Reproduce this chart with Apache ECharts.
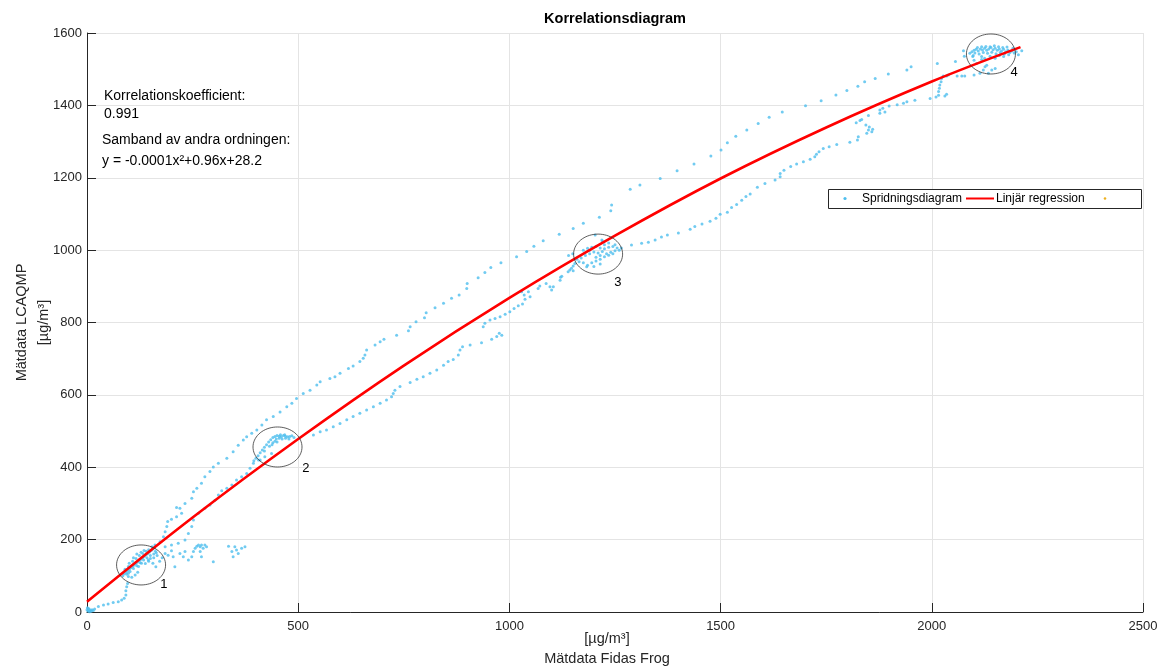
<!DOCTYPE html>
<html><head><meta charset="utf-8">
<script src="https://cdn.jsdelivr.net/npm/echarts@6/dist/echarts.min.js"></script>
<style>html,body{margin:0;padding:0;background:#fff}#c{width:1160px;height:666px}</style>
</head><body><div id="c"></div>
<script>
// ---------- data ----------
const chartTitle = 'Korrelationsdiagram';
const xAxisName = '[µg/m³]\nMätdata Fidas Frog';
const yAxisName = 'Mätdata LCAQMP\n[µg/m³]';
const xTicks = [0, 500, 1000, 1500, 2000, 2500];
const yTicks = [0, 200, 400, 600, 800, 1000, 1200, 1400, 1600];
const seriesNames = ['Spridningsdiagram', 'Linjär regression', ' '];
const seriesColors = ['#4DBEEE', '#FF0000', '#EDB120'];
const annotationLines = ['Korrelationskoefficient:', '0.991', 'Samband av andra ordningen:', 'y = -0.0001x²+0.96x+28.2'];

const originCluster = [[2,3],[5,8],[8,5],[10,2],[3,10],[12,6],[15,4],[6,1],[1,12],[18,8],[0,6],[4,4]];
const trailToCluster1 = [[27,15],[39,19],[50,22],[62,26],[74,28],[82,33],[88,38],[92,47],[92,59],[94,70],[96,79],[98,98],[98,107]];
const cluster1 = [[85,100],[88,106],[92,110],[96,114],[100,118],[104,122],[108,126],[112,130],[116,134],[120,138],[124,142],[128,146],[132,150],[136,154],[140,158],[144,162],[148,166],[152,170],[156,174],[160,178],[94,104],[102,112],[110,120],[118,128],[126,136],[134,144],[142,150],[150,156],[158,160],[164,164],[140,168],[132,162],[124,156],[116,148],[108,140],[98,126],[90,118],[146,172],[154,180],[162,168],[166,156],[146,140],[138,134],[122,126],[156,135],[163,125],[145,144],[129,135],[114,102],[120,110],[106,96],[150,148],[158,150],[135,170],[128,165],[118,160],[110,150],[100,135]];
const spur = [[192,157],[204,153],[208,125],[220,162],[228,153],[232,167],[240,144],[248,153],[252,167],[256,176],[260,182],[264,185],[268,180],[271,185],[275,176],[279,185],[283,180],[268,167],[271,153],[299,139],[335,182],[343,167],[350,180],[354,171],[358,162],[346,153],[366,176],[374,180],[200,169],[185,162],[178,150],[172,140]];
const lowerBranchA = [[185,180],[200,185],[216,190],[232,199],[240,217],[248,236],[252,254],[264,273],[279,287],[291,296],[303,309],[311,323],[319,335],[331,342],[343,351],[354,365],[366,374],[378,383],[386,397],[394,411],[406,420],[421,429],[437,438]];
const upperBranchA = [[161,185],[173,194],[181,208],[185,222],[189,236],[191,250],[200,256],[212,263],[224,273],[220,287],[212,289],[232,300],[248,314],[252,332],[260,342],[271,356],[279,374],[291,388],[299,401],[311,411],[331,425],[346,443],[358,461],[370,475],[378,484],[390,494],[402,503],[414,517],[425,531],[441,540],[457,553],[473,567],[485,577],[496,590],[512,604],[528,613],[544,627],[552,636]];
const cluster2 = [[445,485],[450,488],[455,486],[460,484],[465,488],[470,486],[475,484],[480,485],[485,487],[455,480],[462,478],[470,480],[478,478],[448,478],[440,482],[435,476],[430,470],[440,468],[425,462],[432,458],[420,455],[438,462],[450,470],[415,448],[410,440],[420,445],[405,432],[400,425],[395,418],[410,420],[490,482],[468,490],[458,490],[445,472]];
const lowerBranchB = [[536,489],[552,498],[567,503],[583,512],[599,521],[615,531],[630,540],[646,549],[662,558],[678,567],[694,577],[709,586],[721,595],[725,604],[729,613],[741,623],[765,634],[781,643],[796,650],[812,660],[828,669],[844,682],[855,692],[867,698],[879,710],[883,724],[889,733],[907,738],[934,744],[958,754],[970,761],[976,770],[982,765],[938,788],[942,798],[954,807],[966,811],[978,816],[990,823],[1001,830],[1011,839],[1021,846],[1031,851],[1037,864],[1035,876],[1029,885],[1045,885],[1049,871],[1068,894],[1072,901],[1087,908],[1096,899],[1100,890],[1104,899],[1120,917],[1121,925],[1124,928],[1139,940],[1143,945],[1151,943],[1151,956],[1155,963],[1147,950]];
const upperBranchB = [[575,645],[587,650],[599,660],[619,673],[630,680],[646,692],[654,701],[658,710],[662,724],[682,738],[694,747],[703,754],[733,765],[761,777],[765,788],[779,802],[799,813],[803,827],[824,841],[844,853],[863,867],[881,876],[899,894],[900,908],[926,924],[942,938],[956,952],[980,965],[1017,982],[1041,996],[1058,1011],[1080,1026],[1118,1044],[1151,1060],[1175,1074],[1213,1091],[1240,1109],[1242,1125]];
const cluster3 = [[1175,1000],[1185,1005],[1195,1008],[1205,1010],[1215,1006],[1225,1004],[1235,1008],[1245,1010],[1255,1006],[1200,995],[1210,992],[1220,996],[1230,990],[1240,994],[1250,998],[1215,985],[1225,982],[1235,986],[1205,980],[1190,990],[1180,985],[1170,978],[1160,975],[1165,968],[1175,965],[1185,958],[1195,965],[1205,970],[1215,975],[1200,955],[1215,962],[1225,1015],[1235,1020],[1220,1025],[1203,1042],[1219,1028],[1260,1000],[1245,990],[1265,1006],[1190,1000],[1183,954],[1150,990],[1140,985],[1250,1015]];
const lowerBranchC = [[1289,1014],[1313,1019],[1329,1022],[1345,1028],[1360,1036],[1374,1042],[1400,1047],[1428,1058],[1439,1065],[1456,1072],[1475,1080],[1489,1088],[1499,1099],[1516,1105],[1526,1118],[1538,1126],[1550,1138],[1560,1148],[1570,1155],[1587,1174],[1605,1184],[1629,1194],[1641,1203],[1641,1212],[1650,1221],[1666,1231],[1680,1238],[1696,1244],[1712,1251],[1723,1258],[1727,1265],[1733,1272],[1743,1281],[1757,1286],[1775,1292],[1806,1298],[1824,1304],[1826,1313],[1846,1323],[1850,1332],[1858,1327],[1860,1334],[1852,1340],[1844,1346],[1821,1352],[1830,1358],[1834,1361],[1850,1372],[1877,1378],[1877,1387],[1884,1392],[1889,1382],[1899,1398],[1918,1402],[1933,1406],[1941,1410],[1960,1414],[1996,1419],[2010,1423],[2016,1428],[2031,1426],[2035,1431],[2016,1438],[2018,1447],[2019,1456],[2022,1465],[2023,1474],[2027,1481],[2035,1481],[2039,1484],[2060,1481],[2071,1481],[2078,1481],[2100,1484],[2114,1489],[2122,1498],[2126,1507],[2130,1511],[2134,1489],[2142,1498],[2150,1502]];
const upperBranchC = [[1286,1168],[1309,1180],[1357,1198],[1397,1219],[1437,1238],[1477,1260],[1501,1277],[1516,1297],[1536,1315],[1562,1332],[1589,1350],[1615,1367],[1646,1382],[1701,1399],[1738,1413],[1773,1429],[1799,1441],[1825,1453],[1841,1465],[1866,1474],[1897,1487],[1941,1498],[1951,1507],[2013,1516],[2056,1521],[2075,1551],[2077,1536],[2097,1535]];
const cluster4 = [[2095,1548],[2100,1552],[2105,1555],[2110,1550],[2115,1556],[2120,1553],[2125,1558],[2130,1552],[2135,1556],[2140,1560],[2145,1554],[2150,1558],[2155,1552],[2160,1556],[2165,1550],[2170,1555],[2175,1548],[2180,1553],[2185,1546],[2190,1550],[2195,1545],[2200,1548],[2102,1545],[2112,1542],[2122,1546],[2132,1544],[2142,1547],[2152,1543],[2162,1546],[2172,1542],[2182,1540],[2108,1560],[2118,1562],[2128,1563],[2138,1562],[2148,1565],[2158,1562],[2168,1560],[2098,1538],[2118,1535],[2138,1536],[2160,1538],[2090,1544],[2205,1540],[2213,1551],[2192,1558],[2178,1561],[2125,1530],[2150,1530],[2100,1525],[2106,1516],[2118,1527],[2170,1535]];

const regressionX = [0, 250, 500, 750, 1000, 1250, 1500, 1750, 2000, 2210];
const regressionY = [28, 261, 478, 681, 868, 1040, 1198, 1339, 1466, 1561];

const circleCenters = [[128,130],[451,456],[1210,989],[2140,1542]];
const circleLabels = [['1',182,75],['2',518,398],['3',1257,912],['4',2195,1492]];

// ---------- chart ----------
const scatterData = [].concat(originCluster, trailToCluster1, cluster1, spur, lowerBranchA, upperBranchA,
  cluster2, lowerBranchB, upperBranchB, cluster3, lowerBranchC, upperBranchC, cluster4);
const lineData = regressionX.map((x, i) => [x, regressionY[i]]);

const FONT = 'Liberation Sans, Arial, Helvetica, sans-serif';
const AX = '#262626';
const chart = echarts.init(document.getElementById('c'), null, {renderer: 'canvas'});

const annY = [96, 114, 140, 161];
const annX = [104, 104, 102, 102];

// hand-built legend box (MATLAB style)
const LG = {x: 828, y: 189, w: 313, h: 19};
const lgMid = LG.y + LG.h / 2;
const legendGraphics = [
  {type: 'rect', z: 200, shape: {x: LG.x + 0.5, y: LG.y + 0.5, width: LG.w, height: LG.h}, style: {fill: '#fff', stroke: AX, lineWidth: 1}},
  {type: 'circle', z: 201, shape: {cx: 845, cy: lgMid, r: 1.6}, style: {fill: seriesColors[0]}},
  {type: 'text', z: 201, x: 862, y: lgMid, style: {text: seriesNames[0], fill: '#000', font: '12px ' + FONT, textAlign: 'left', textVerticalAlign: 'middle'}},
  {type: 'line', z: 201, shape: {x1: 966, y1: lgMid, x2: 994, y2: lgMid}, style: {stroke: seriesColors[1], lineWidth: 2}},
  {type: 'text', z: 201, x: 996, y: lgMid, style: {text: seriesNames[1], fill: '#000', font: '12px ' + FONT, textAlign: 'left', textVerticalAlign: 'middle'}},
  {type: 'circle', z: 201, shape: {cx: 1105, cy: lgMid, r: 1.3}, style: {fill: seriesColors[2]}}
];

chart.setOption({
  animation: false,
  backgroundColor: '#ffffff',
  grid: {left: 87, right: 17, top: 33, bottom: 54, containLabel: false, outerBoundsMode: 'none'},
  xAxis: {
    type: 'value', min: xTicks[0], max: xTicks[xTicks.length - 1], interval: xTicks[1] - xTicks[0],
    name: xAxisName, nameLocation: 'middle', nameGap: 17, nameMoveOverlap: false,
    nameTextStyle: {fontFamily: FONT, fontSize: 14.5, color: AX, lineHeight: 20, padding: [0, 16, 0, 0]},
    axisLine: {show: true, onZero: false, lineStyle: {color: AX, width: 1}},
    axisTick: {show: true, inside: true, length: 9, lineStyle: {color: AX}},
    axisLabel: {fontFamily: FONT, fontSize: 13, color: AX, margin: 8, formatter: v => String(v)},
    splitLine: {show: true, lineStyle: {color: '#e4e4e4', width: 1}}
  },
  yAxis: {
    type: 'value', min: yTicks[0], max: yTicks[yTicks.length - 1], interval: yTicks[1] - yTicks[0],
    name: yAxisName, nameLocation: 'middle', nameGap: 32, nameMoveOverlap: false,
    nameTextStyle: {fontFamily: FONT, fontSize: 14.5, color: AX, lineHeight: 22},
    axisLine: {show: true, onZero: false, lineStyle: {color: AX, width: 1}},
    axisTick: {show: true, inside: true, length: 9, lineStyle: {color: AX}},
    axisLabel: {fontFamily: FONT, fontSize: 13, color: AX, margin: 5, formatter: v => String(v)},
    splitLine: {show: true, lineStyle: {color: '#e4e4e4', width: 1}}
  },
  graphic: [
    {type: 'text', x: 615, y: 19, z: 100, style: {text: chartTitle, fill: '#000', font: 'bold 14.5px ' + FONT, textAlign: 'center', textVerticalAlign: 'middle'}}
  ].concat(annotationLines.map((t, i) => ({
    type: 'text', x: annX[i], y: annY[i], z: 100,
    style: {text: t, fill: '#000', font: '14px ' + FONT, textAlign: 'left', textVerticalAlign: 'middle'}
  }))).concat(legendGraphics),
  series: [
    {name: seriesNames[0], type: 'scatter', data: scatterData, symbol: 'circle', symbolSize: 3,
     itemStyle: {color: seriesColors[0]}, z: 2},
    {name: seriesNames[1], type: 'line', data: lineData, smooth: 0.4, showSymbol: false, symbol: 'none',
     lineStyle: {color: seriesColors[1], width: 2.6}, itemStyle: {color: seriesColors[1]}, z: 3},
    {name: seriesNames[2], type: 'scatter', data: [], itemStyle: {color: seriesColors[2]}},
    {type: 'custom', data: circleCenters, z: 4, silent: true,
     renderItem: (params, api) => {
       const c = api.coord([api.value(0), api.value(1)]);
       const pts = [];
       for (let i = 0; i < 72; i++) { const a = i / 72 * 2 * Math.PI; pts.push([c[0] + 24.5 * Math.cos(a), c[1] + 20 * Math.sin(a)]); }
       return {type: 'polygon', shape: {points: pts}, style: {fill: 'none', stroke: '#333333', lineWidth: 0.8}};
     }},
    {type: 'custom', data: circleLabels.map(d => [d[1], d[2]]), z: 5, silent: true,
     renderItem: (params, api) => {
       const c = api.coord([api.value(0), api.value(1)]);
       return {type: 'text', x: c[0], y: c[1], style: {text: String(circleLabels[params.dataIndex][0]), fill: '#000', font: '13px ' + FONT, textAlign: 'center', textVerticalAlign: 'middle'}};
     }}
  ]
});
</script></body></html>
